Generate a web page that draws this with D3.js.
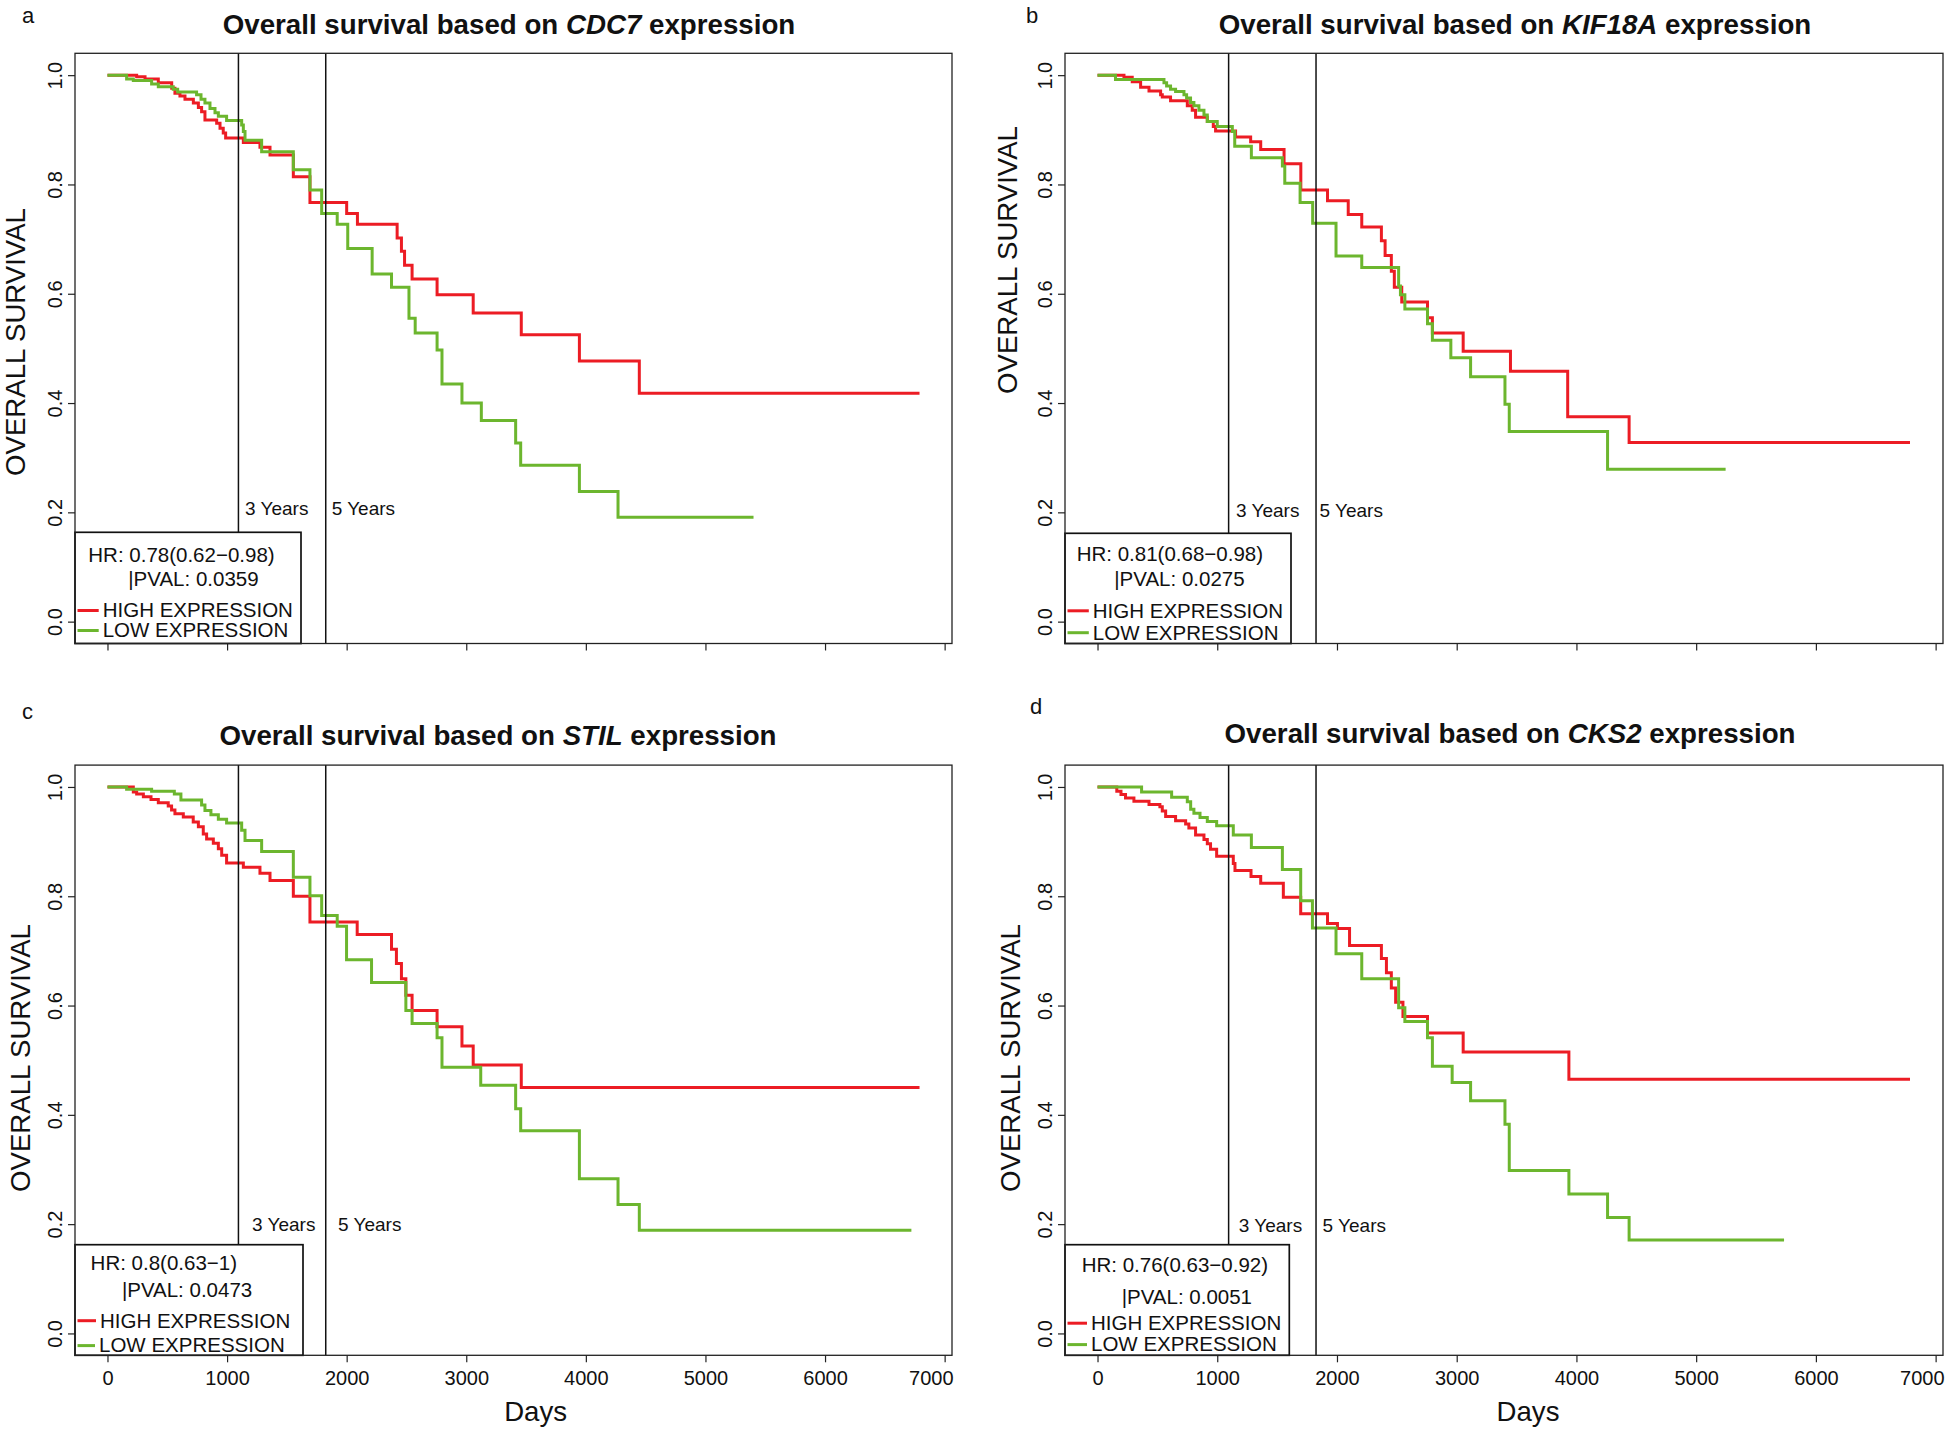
<!DOCTYPE html>
<html>
<head>
<meta charset="utf-8">
<script src="https://cdn.jsdelivr.net/npm/d3@7"></script>
<style>
  body { margin: 0; background: #fff; }
  text { font-family: "Liberation Sans", Arial, sans-serif; fill: #111; }
</style>
</head>
<body>
<svg id="fig" width="1946" height="1432"></svg>
<script>
/* data: [days, survival] step points, last point = end of follow-up */
const maxDays = 6790;
const xTicks = [0, 1000, 2000, 3000, 4000, 5000, 6000, 7000];
const yTicks = [0, 0.2, 0.4, 0.6, 0.8, 1.0];
const yearMarks = [1095, 1825];
const yearLabels = ["3 Years", "5 Years"];
const panelLetters = ["a", "b", "c", "d"];
const genes = ["CDC7", "KIF18A", "STIL", "CKS2"];
const hrLabels = ["HR: 0.78(0.62\u22120.98)", "HR: 0.81(0.68\u22120.98)", "HR: 0.8(0.63\u22121)", "HR: 0.76(0.63\u22120.92)"];
const pvalLabels = ["|PVAL: 0.0359", "|PVAL: 0.0275", "|PVAL: 0.0473", "|PVAL: 0.0051"];
const seriesNames = ["HIGH EXPRESSION", "LOW EXPRESSION"];

const cdc7High = [[0,1],[244,0.997],[314,0.993],[425,0.986],[537,0.976],[564,0.967],[606,0.962],[648,0.956],[718,0.949],[760,0.941],[787,0.933],[815,0.918],[913,0.912],[941,0.903],[968,0.894],[988,0.885],[1136,0.877],[1275,0.868],[1359,0.854],[1554,0.814],[1693,0.767],[2000,0.747],[2090,0.727],[2422,0.702],[2458,0.678],[2484,0.652],[2547,0.627],[2756,0.598],[3058,0.565],[3460,0.525],[3946,0.477],[4447,0.418],[6790,0.418]];
const cdc7Low = [[0,1],[160,0.993],[216,0.990],[369,0.984],[425,0.979],[550,0.974],[587,0.969],[745,0.964],[782,0.956],[815,0.949],[857,0.939],[899,0.931],[927,0.925],[996,0.917],[1122,0.909],[1136,0.897],[1150,0.881],[1289,0.860],[1554,0.827],[1693,0.790],[1791,0.747],[1921,0.727],[2009,0.683],[2213,0.636],[2375,0.612],[2521,0.555],[2573,0.528],[2756,0.497],[2797,0.435],[2964,0.400],[3126,0.368],[3413,0.327],[3455,0.286],[3946,0.238],[4269,0.191],[5402,0.191]];

const kif18aHigh = [[0,1],[221,0.996],[290,0.988],[360,0.978],[430,0.971],[527,0.964],[541,0.960],[610,0.953],[750,0.944],[791,0.936],[819,0.923],[917,0.915],[967,0.906],[986,0.898],[1153,0.887],[1279,0.878],[1363,0.864],[1558,0.838],[1698,0.790],[1921,0.770],[2094,0.745],[2207,0.722],[2371,0.697],[2402,0.670],[2454,0.641],[2479,0.612],[2541,0.585],[2756,0.556],[2797,0.528],[3054,0.495],[3449,0.458],[3927,0.375],[4440,0.328],[6786,0.328]];
const kif18aLow = [[0,1],[150,0.992],[555,0.986],[577,0.980],[610,0.974],[652,0.970],[722,0.964],[744,0.958],[777,0.950],[805,0.944],[847,0.936],[889,0.927],[917,0.915],[1000,0.906],[1126,0.897],[1146,0.870],[1285,0.849],[1544,0.834],[1564,0.802],[1692,0.767],[1797,0.729],[1992,0.669],[2207,0.648],[2515,0.614],[2530,0.598],[2567,0.572],[2756,0.545],[2797,0.515],[2951,0.483],[3116,0.448],[3403,0.398],[3439,0.348],[4260,0.279],[5246,0.279]];

const stilHigh = [[0,1],[216,0.991],[244,0.987],[300,0.982],[364,0.977],[425,0.971],[508,0.965],[536,0.958],[564,0.951],[634,0.945],[717,0.936],[760,0.927],[801,0.914],[829,0.905],[885,0.897],[927,0.887],[955,0.875],[996,0.861],[1136,0.853],[1275,0.842],[1359,0.829],[1554,0.800],[1693,0.753],[2088,0.730],[2375,0.703],[2416,0.677],[2458,0.649],[2495,0.619],[2547,0.591],[2756,0.561],[2964,0.526],[3058,0.491],[3460,0.450],[6790,0.450]];
const stilLow = [[0,1],[160,0.996],[369,0.992],[559,0.987],[614,0.976],[787,0.967],[815,0.957],[865,0.949],[927,0.941],[996,0.934],[1122,0.921],[1150,0.902],[1289,0.882],[1554,0.835],[1693,0.801],[1791,0.765],[1921,0.745],[1999,0.684],[2208,0.642],[2495,0.591],[2547,0.567],[2756,0.541],[2797,0.487],[3121,0.454],[3413,0.411],[3455,0.371],[3946,0.283],[4269,0.236],[4447,0.189],[6722,0.189]];

const cks2High = [[0,1],[161,0.992],[196,0.986],[234,0.980],[304,0.974],[430,0.968],[521,0.964],[541,0.956],[569,0.946],[652,0.938],[736,0.932],[763,0.925],[819,0.912],[889,0.904],[917,0.896],[944,0.886],[995,0.873],[1134,0.860],[1148,0.847],[1282,0.836],[1363,0.824],[1552,0.798],[1697,0.768],[1921,0.750],[2004,0.741],[2105,0.710],[2371,0.686],[2413,0.660],[2454,0.632],[2490,0.606],[2551,0.580],[2756,0.550],[3054,0.515],[3937,0.465],[6786,0.465]];
const cks2Low = [[0,1],[368,0.991],[619,0.981],[750,0.973],[778,0.959],[805,0.952],[856,0.944],[917,0.937],[995,0.929],[1134,0.912],[1285,0.889],[1544,0.849],[1697,0.792],[1795,0.742],[1992,0.695],[2207,0.649],[2515,0.596],[2567,0.571],[2756,0.541],[2797,0.489],[2962,0.459],[3116,0.426],[3403,0.383],[3439,0.298],[3937,0.255],[4260,0.212],[4440,0.171],[5734,0.171]];

const highSeries = [cdc7High, kif18aHigh, stilHigh, cks2High];
const lowSeries = [cdc7Low, kif18aLow, stilLow, cks2Low];

/* layout (pixels) */
const RED = "#ec1c24", GREEN = "#6cb62e";
const layout = [
  { l: 75, r: 952, t: 53.3, b: 643.5, letter: [22, 23], title: [509, 34], ylab: [25, 342],
    years: [[245, 515], [331.7, 515]], leg: { r: 301, t: 532.3, hr: [88.3, 561.7], pv: [128.3, 586], hi: [102.7, 617.3], lo: [102.7, 637.3] }, showX: false },
  { l: 1065, r: 1943, t: 53.3, b: 643.5, letter: [1026, 23], title: [1515, 34], ylab: [1017, 260],
    years: [[1236, 517], [1319.5, 517]], leg: { r: 1291, t: 533.3, hr: [1076.7, 560.7], pv: [1114.3, 586], hi: [1092.8, 617.6], lo: [1092.8, 639.5] }, showX: false },
  { l: 75, r: 952, t: 765.1, b: 1355.3, letter: [22, 719], title: [498, 745], ylab: [30, 1058],
    years: [[252, 1231], [338, 1231]], leg: { r: 303, t: 1244.7, hr: [90.6, 1269.7], pv: [121.9, 1297], hi: [100, 1327.5], lo: [99, 1352.4] }, showX: true, days: [535.6, 1421] },
  { l: 1065, r: 1943, t: 765.1, b: 1355.3, letter: [1030, 714], title: [1510, 743], ylab: [1020, 1058],
    years: [[1238.8, 1232], [1322.6, 1232]], leg: { r: 1289.3, t: 1244.7, hr: [1081.7, 1272], pv: [1121.7, 1303.8], hi: [1091, 1330], lo: [1091, 1351.4] }, showX: true, days: [1528, 1421] }
];

const svg = d3.select("#fig");
svg.append("rect").attr("width", 1946).attr("height", 1432).attr("fill", "#fff");

layout.forEach((L, i) => {
  const g = svg.append("g");
  const x = d3.scaleLinear().domain([-0.04 * maxDays, 1.04 * maxDays]).range([L.l, L.r]);
  const y = d3.scaleLinear().domain([-0.04, 1.04]).range([L.b, L.t]);

  // panel letter + title
  g.append("text").attr("x", L.letter[0]).attr("y", L.letter[1]).attr("font-size", 22).text(panelLetters[i]);
  const tt = g.append("text").attr("x", L.title[0]).attr("y", L.title[1]).attr("text-anchor", "middle")
    .attr("font-size", 27.7).attr("font-weight", "bold");
  tt.append("tspan").text("Overall survival based on ");
  tt.append("tspan").attr("font-style", "italic").text(genes[i]);
  tt.append("tspan").text(" expression");

  // y axis
  const ya = g.append("g").attr("transform", `translate(${L.l},0)`)
    .call(d3.axisLeft(y).tickValues(yTicks).tickSize(7).tickFormat(d3.format(".1f")));
  ya.select(".domain").remove();
  ya.selectAll("line").attr("stroke", "#222").attr("stroke-width", 1.2);
  ya.selectAll("text").attr("font-size", 20).attr("fill", "#111")
    .attr("transform", "translate(-13,0) rotate(-90)")
    .attr("x", 0).attr("y", 0).attr("dy", 0).attr("text-anchor", "middle")
    .style("font-family", "'Liberation Sans', Arial, sans-serif");

  // x axis
  const xa = g.append("g").attr("transform", `translate(0,${L.b})`)
    .call(d3.axisBottom(x).tickValues(xTicks).tickSize(7).tickFormat(L.showX ? d3.format("d") : ""));
  xa.select(".domain").remove();
  xa.selectAll("line").attr("stroke", "#222").attr("stroke-width", 1.2);
  xa.selectAll("text").attr("font-size", 20).attr("fill", "#111").attr("dy", 0).attr("y", 29.7)
    .style("font-family", "'Liberation Sans', Arial, sans-serif");
  if (L.showX) {
    xa.selectAll(".tick").filter(d => d === 7000).select("text")
      .attr("text-anchor", "end").attr("x", L.r + 1 - x(7000));
    g.append("text").attr("x", L.days[0]).attr("y", L.days[1]).attr("text-anchor", "middle")
      .attr("font-size", 27.6).text("Days");
  }

  // y label
  g.append("text").attr("transform", `translate(${L.ylab[0]},${L.ylab[1]}) rotate(-90)`)
    .attr("text-anchor", "middle").attr("font-size", 27.6).text("OVERALL SURVIVAL");

  // survival curves
  const line = d3.line().x(d => x(d[0])).y(d => y(d[1])).curve(d3.curveStepAfter);
  g.append("path").datum(highSeries[i]).attr("d", line).attr("fill", "none")
    .attr("stroke", RED).attr("stroke-width", 3);
  g.append("path").datum(lowSeries[i]).attr("d", line).attr("fill", "none")
    .attr("stroke", GREEN).attr("stroke-width", 3);

  // year marks
  yearMarks.forEach((yr, k) => {
    g.append("line").attr("x1", x(yr)).attr("x2", x(yr)).attr("y1", L.t).attr("y2", L.b)
      .attr("stroke", "#111").attr("stroke-width", 1.5);
    g.append("text").attr("x", L.years[k][0]).attr("y", L.years[k][1]).attr("font-size", 19).text(yearLabels[k]);
  });

  // legend
  const lg = L.leg;
  g.append("rect").attr("x", L.l).attr("y", lg.t).attr("width", lg.r - L.l).attr("height", L.b - lg.t)
    .attr("fill", "#fff").attr("stroke", "#111").attr("stroke-width", 1.7);
  g.append("text").attr("x", lg.hr[0]).attr("y", lg.hr[1]).attr("font-size", 20.5).text(hrLabels[i]);
  g.append("text").attr("x", lg.pv[0]).attr("y", lg.pv[1]).attr("font-size", 20.5).text(pvalLabels[i]);
  [[lg.hi, RED], [lg.lo, GREEN]].forEach(([p, c], k) => {
    g.append("line").attr("x1", L.l + 2.5).attr("x2", p[0] - 4).attr("y1", p[1] - 6.8).attr("y2", p[1] - 6.8)
      .attr("stroke", c).attr("stroke-width", 3);
    g.append("text").attr("x", p[0]).attr("y", p[1]).attr("font-size", 20.5).text(seriesNames[k]);
  });

  // plot frame
  g.append("rect").attr("x", L.l).attr("y", L.t).attr("width", L.r - L.l).attr("height", L.b - L.t)
    .attr("fill", "none").attr("stroke", "#222").attr("stroke-width", 1.3);
});
</script>
</body>
</html>
